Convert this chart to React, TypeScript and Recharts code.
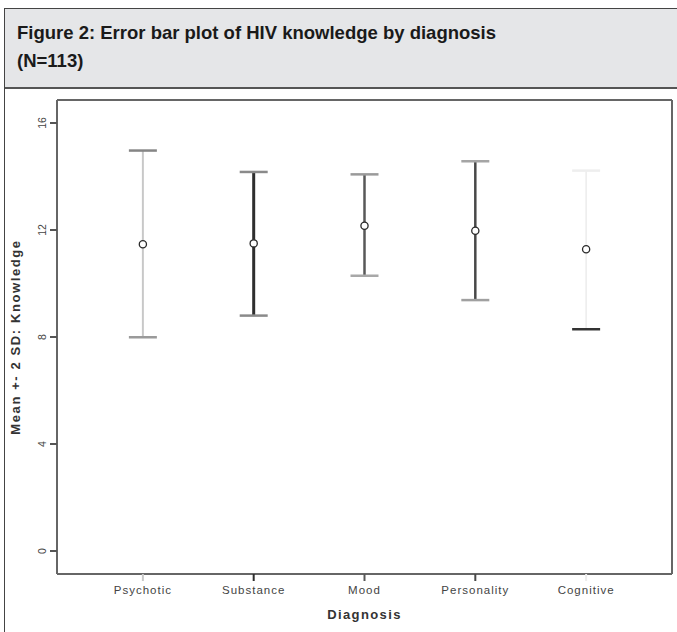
import React from "react";
import {
  ComposedChart,
  ErrorBar,
  ReferenceLine,
  Scatter,
  XAxis,
  YAxis,
} from "recharts";

// values
const CATEGORIES = ["Psychotic", "Substance", "Mood", "Personality", "Cognitive"];
const MEANS = [11.47, 11.5, 12.16, 11.97, 11.28];
const LOWER = [7.99, 8.8, 10.29, 9.38, 8.29];
const UPPER = [14.97, 14.17, 14.08, 14.57, 14.22];
const Y_TICKS = [0, 4, 8, 12, 16];

// per-category styling (SPSS greyscale)
const LINE_COLORS = ["#c8c8c8", "#2e2e2e", "#585858", "#484848", "#ececec"];
const LINE_WIDTHS = [2, 3, 2.5, 2.5, 1.5];
const TOP_CAP_COLORS = ["#858585", "#8a8a8a", "#9a9a9a", "#a5a5a5", "#eeeeee"];
const LOW_CAP_COLORS = ["#9a9a9a", "#8a8a8a", "#a8a8a8", "#a0a0a0", "#333333"];

const Y_DOMAIN: [number, number] = [-0.86, 16.86];
const X_DOMAIN: [number, number] = [-0.775, 4.775];
const TICK_SIZE = 7;
const TICK_MARGIN = 2;
const AXIS = "#666";
const FONT = "Liberation Sans, Arial, sans-serif";

const rows = CATEGORIES.map((name, i) => ({
  x: i,
  name,
  mean: MEANS[i],
  lo: LOWER[i],
  hi: UPPER[i],
  err: [MEANS[i] - LOWER[i], UPPER[i] - MEANS[i]],
}));

const cap = (color: string) => (p: any) => (
  <line x1={p.cx - 14} x2={p.cx + 14} y1={p.cy} y2={p.cy} stroke={color} strokeWidth={2.5} />
);

const marker = (p: any) => (
  <circle cx={p.cx} cy={p.cy} r={3.6} fill="#fff" stroke="#2a2a2a" strokeWidth={1.3} />
);

const XTick = (props: any) => {
  const { x, y, payload } = props;
  const i = payload.value as number;
  return (
    <g>
      <line
        x1={x}
        x2={x}
        y1={y - TICK_SIZE - TICK_MARGIN}
        y2={y - TICK_MARGIN}
        stroke={LINE_COLORS[i]}
        strokeWidth={2}
      />
      <text
        x={x}
        y={y}
        dy={11}
        textAnchor="middle"
        fontSize={11.5}
        letterSpacing={1}
        fill="#444"
        fontFamily={FONT}
      >
        {CATEGORIES[i]}
      </text>
    </g>
  );
};

const YTick = (props: any) => {
  const { x, y, payload } = props;
  const tx = x - 2;
  return (
    <text
      x={tx}
      y={y}
      transform={`rotate(-90, ${tx}, ${y})`}
      textAnchor="middle"
      fontSize={10.5}
      fill="#444"
      fontFamily={FONT}
    >
      {payload.value}
    </text>
  );
};

const yLabel = (props: any) => {
  const vb = props.viewBox;
  const cx = vb.x + 15;
  const cy = vb.y + vb.height / 2;
  return (
    <text
      x={cx}
      y={cy}
      transform={`rotate(-90, ${cx}, ${cy})`}
      textAnchor="middle"
      dominantBaseline="central"
      fontSize={13}
      fontWeight="bold"
      letterSpacing={1.6}
      fill="#333"
      fontFamily={FONT}
    >
      Mean +- 2 SD: Knowledge
    </text>
  );
};

const xLabel = (props: any) => {
  const vb = props.viewBox;
  return (
    <text
      x={vb.x + vb.width / 2}
      y={vb.y + 45}
      textAnchor="middle"
      fontSize={13}
      fontWeight="bold"
      letterSpacing={1.4}
      fill="#333"
      fontFamily={FONT}
    >
      Diagnosis
    </text>
  );
};

export default function App() {
  return (
    <div style={{ position: "absolute", left: 0, top: 0, width: 677, height: 632, background: "#fff", overflow: "hidden" }}>
      <div
        style={{
          position: "absolute",
          left: 4,
          top: 8,
          width: 690,
          height: 640,
          border: "1.5px solid #444",
          boxSizing: "border-box",
        }}
      />
      <div
        style={{
          position: "absolute",
          left: 5,
          top: 9,
          width: 680,
          height: 80,
          background: "#e5e6e8",
          borderBottom: "2px solid #555",
          fontFamily: FONT,
          fontWeight: "bold",
          fontSize: 18.5,
          lineHeight: "28px",
          color: "#1a1a1a",
          paddingLeft: 12,
          paddingTop: 10,
          boxSizing: "border-box",
        }}
      >
        Figure 2: Error bar plot of HIV knowledge by diagnosis
        <br />
        (N=113)
      </div>
      <div style={{ position: "absolute", left: 0, top: 92 }}>
        <ComposedChart width={677} height={540} margin={{ top: 8, right: 5, bottom: 0, left: 0 }}>
          <XAxis
            type="number"
            dataKey="x"
            domain={X_DOMAIN}
            ticks={[0, 1, 2, 3, 4]}
            allowDataOverflow
            height={58}
            tickSize={TICK_SIZE}
            tickMargin={TICK_MARGIN}
            tickLine={false}
            tick={<XTick />}
            axisLine={{ stroke: AXIS, strokeWidth: 2 }}
            label={xLabel}
          />
          <YAxis
            type="number"
            domain={Y_DOMAIN}
            ticks={Y_TICKS}
            allowDataOverflow
            width={57}
            tickSize={TICK_SIZE}
            tickMargin={TICK_MARGIN}
            tickLine={{ stroke: "#555", strokeWidth: 2 }}
            tick={<YTick />}
            axisLine={{ stroke: AXIS, strokeWidth: 2 }}
            label={yLabel}
          />
          <ReferenceLine y={Y_DOMAIN[1]} stroke={AXIS} strokeWidth={2} />
          <ReferenceLine x={X_DOMAIN[1]} stroke={AXIS} strokeWidth={2} />
          {rows.flatMap((r, i) => [
            <Scatter
              key={`hi-${i}`}
              data={[r]}
              dataKey="hi"
              shape={cap(TOP_CAP_COLORS[i])}
              isAnimationActive={false}
            />,
            <Scatter
              key={`lo-${i}`}
              data={[r]}
              dataKey="lo"
              shape={cap(LOW_CAP_COLORS[i])}
              isAnimationActive={false}
            />,
            <Scatter
              key={`mean-${i}`}
              data={[r]}
              dataKey="mean"
              shape={marker}
              isAnimationActive={false}
            >
              <ErrorBar
                dataKey="err"
                direction="y"
                width={0}
                stroke={LINE_COLORS[i]}
                strokeWidth={LINE_WIDTHS[i]}
                isAnimationActive={false}
              />
            </Scatter>,
          ])}
        </ComposedChart>
      </div>
    </div>
  );
}
